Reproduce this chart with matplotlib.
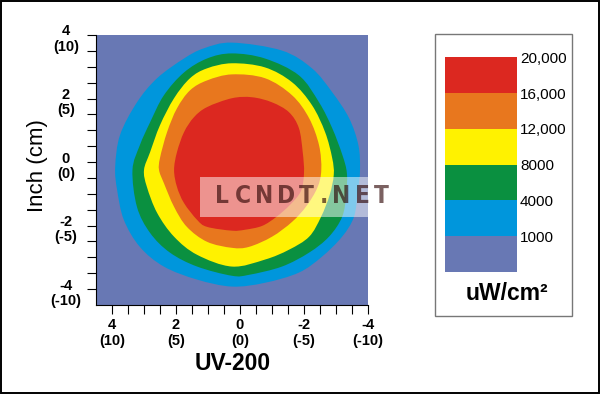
import numpy as np
import matplotlib
matplotlib.use("Agg")
import matplotlib.pyplot as plt
from matplotlib.path import Path
from matplotlib.patches import PathPatch, Rectangle
from matplotlib.transforms import ScaledTranslation, blended_transform_factory

plt.rcParams['font.family'] = ['Liberation Sans', 'DejaVu Sans']

# ---------------- data ----------------
level_labels = ['1000', '4000', '8000', '12,000', '16,000', '20,000']
band_colors = ['#6878b4', '#0096dc', '#0a9040', '#fff200', '#e8771e', '#dc2820']

x_ticks = [4, 2, 0, -2, -4]
x_tick_labels = ['4\n(10)', '2\n(5)', '0\n(0)', '-2\n(-5)', '-4\n(-10)']
y_ticks = [4, 2, 0, -2, -4]
y_tick_labels = ['4\n(10)', '2\n(5)', '0\n(0)', '-2\n(-5)', '-4\n(-10)']

# contour outlines (inch)
c1000_x = [0.25, -1.31, -2.25, -2.88, -3.41, -3.70, -3.75, -3.68, -3.56, -3.19, -2.56, -1.84, -0.78,
           0.25, 1.34, 2.38, 3.13, 3.63, 3.84, 3.90, 3.75, 3.22, 2.59, 1.75, 1.13]
c1000_y = [3.76, 3.51, 2.95, 2.20, 1.38, 0.53, -0.25, -0.95, -1.73, -2.35, -2.98, -3.48, -3.80,
           -3.92, -3.70, -3.29, -2.67, -1.82, -0.88, -0.15, 0.85, 1.88, 2.64, 3.26, 3.58]

c4000_x = [0.25, -0.78, -1.84, -2.47, -2.88, -3.20, -3.34, -3.32, -3.19, -2.78, -2.16, -1.31, -0.28,
           0.25, 1.34, 2.19, 2.81, 3.22, 3.36, 3.13, 2.81, 2.38, 1.75, 1.03]
c4000_y = [3.42, 3.26, 2.73, 1.88, 1.07, 0.22, -0.35, -1.04, -1.73, -2.35, -2.85, -3.29, -3.55,
           -3.58, -3.29, -2.85, -2.23, -1.41, -0.25, 0.53, 1.25, 2.10, 2.82, 3.26]

c8000_x = [0.25, -0.78, -1.63, -2.25, -2.66, -2.88, -2.93, -2.80, -2.53, -2.16, -1.53, -0.78,
           0.25, 1.34, 2.06, 2.59, 2.91, 3.00, 2.81, 2.50, 2.06, 1.56, 1.03]
c8000_y = [3.11, 2.98, 2.51, 1.79, 0.94, 0.13, -0.40, -1.04, -1.73, -2.35, -2.76, -3.07,
           -3.29, -2.92, -2.35, -1.60, -0.78, -0.25, 0.31, 1.16, 2.01, 2.64, 2.95]

c12000_x = [0.25, -0.78, -1.63, -2.16, -2.47, -2.54, -2.42, -2.08, -1.63, -1.00, -0.28,
            0.25, 1.03, 1.66, 2.06, 2.38, 2.53, 2.50, 2.28, 1.97, 1.56, 1.03]
c12000_y = [2.76, 2.64, 2.10, 1.38, 0.53, -0.25, -0.80, -1.38, -1.88, -2.35, -2.67,
            -2.70, -2.51, -2.04, -1.41, -0.66, -0.25, 0.13, 0.94, 1.69, 2.26, 2.57]

c16000_x = [0.25, -0.38, -1.00, -1.53, -1.84, -1.96, -2.00, -1.90, -1.56, -1.13, -0.69, -0.16,
            0.25, 1.03, 1.34, 1.75, 1.97, 2.06, 1.97, 1.75, 1.44, 1.03]
c16000_y = [2.01, 2.04, 1.88, 1.57, 1.07, 0.31, -0.35, -0.92, -1.35, -1.73, -2.01, -2.13,
            -2.16, -2.04, -1.82, -1.29, -0.78, -0.25, 0.31, 0.94, 1.41, 1.73]

contours = [(c1000_x, c1000_y), (c4000_x, c4000_y), (c8000_x, c8000_y),
            (c12000_x, c12000_y), (c16000_x, c16000_y)]


def closed_smooth_path(xs, ys):
    P = np.column_stack([xs, ys]).astype(float)
    n = len(P)
    verts = [P[0]]
    codes = [Path.MOVETO]
    for i in range(n):
        p0, p1, p2, p3 = P[i - 1], P[i], P[(i + 1) % n], P[(i + 2) % n]
        verts += [p1 + (p2 - p0) / 6.0, p2 - (p3 - p1) / 6.0, p2]
        codes += [Path.CURVE4] * 3
    verts.append(P[0])
    codes.append(Path.CLOSEPOLY)
    return Path(verts, codes)


W, H = 600, 394
fig = plt.figure(figsize=(W / 100, H / 100), dpi=100)
fig.patch.set_facecolor('white')

def fx(px):
    return px / W

def fy(py):
    return 1 - py / H

tick_font = dict(fontsize=10.5, fontweight='bold', multialignment='center', linespacing=1.1)

# ---------------- main contour axes ----------------
ax = fig.add_axes([fx(96), fy(305), 272 / W, 270 / H])
ax.set_facecolor(band_colors[0])
for (cx, cy), col in zip(contours, band_colors[1:]):
    ax.add_patch(PathPatch(closed_smooth_path(cx, cy), facecolor=col, edgecolor='none'))
ax.set_xlim(4.5, -4)
ax.set_ylim(-4.5, 4)

ax.set_xticks(x_ticks)
ax.set_xticklabels(x_tick_labels, **tick_font)
ax.set_xticks(np.arange(-4, 4.01, 0.5), minor=True)
ax.set_yticks(y_ticks)
ax.set_yticklabels([])
ax.set_yticks(np.arange(-4, 4.01, 0.5), minor=True)
ax.tick_params(which='both', direction='out', length=6.2, width=0.8, color='black')
ax.tick_params(axis='x', which='major', pad=3.5)

# y tick labels drawn as centred text blocks just under each tick
ytr = blended_transform_factory(fig.transFigure, ax.transData) + \
    ScaledTranslation(0, -4 / 100, fig.dpi_scale_trans)
for v, lab in zip(y_ticks, y_tick_labels):
    ax.text(fx(66), v, lab, transform=ytr, ha='center', va='center', clip_on=False, **tick_font)

for s in ['top', 'right']:
    ax.spines[s].set_visible(False)
for s in ['left', 'bottom']:
    ax.spines[s].set_color('black')
    ax.spines[s].set_linewidth(0.8)

fig.text(fx(37), fy(166), 'Inch (cm)', rotation=90, ha='center', va='center', fontsize=16)
fig.text(fx(233), fy(364), 'UV-200', ha='center', va='center', fontsize=16.5, fontweight='bold')

# ---------------- watermark ----------------
fig.patches.append(Rectangle((fx(200), fy(217)), (368 - 200) / W, 40 / H,
                             transform=fig.transFigure, facecolor='white', alpha=0.5,
                             edgecolor='none', zorder=5))
wm_chars = ['L', 'C', 'N', 'D', 'T', '.', 'N', 'E', 'T']
wm_cx = [222, 242.5, 264, 286, 306, 323.5, 341, 362, 381.5]
for ch, cxp in zip(wm_chars, wm_cx):
    fig.text(fx(cxp), fy(196), ch, ha='center', va='center', fontsize=17.5, fontweight='bold',
             family='DejaVu Sans', fontstretch='condensed', color='#2a0000', alpha=0.62,
             zorder=6)

# ---------------- legend ----------------
fig.patches.append(Rectangle((fx(435), fy(316)), (572 - 435) / W, (316 - 34) / H,
                             transform=fig.transFigure, facecolor='white',
                             edgecolor='#777777', linewidth=1.0, zorder=-1))
lax = fig.add_axes([fx(445), fy(272), 72 / W, 215 / H])
n = len(band_colors)
lax.bar(np.zeros(n), np.ones(n), bottom=np.arange(n), width=1, color=band_colors, align='edge')
lax.set_xlim(0, 1)
lax.set_ylim(0, n)
lax.set_axis_off()
for i, lab in enumerate(level_labels):
    lax.text(1.04, i + 1 - 0.05, lab, transform=lax.transData, ha='left', va='center',
             fontsize=11, clip_on=False)
fig.text(fx(507), fy(294), 'uW/cm²', ha='center', va='center', fontsize=16.5, fontweight='bold')

# ---------------- outer frame ----------------
fig.patches.append(Rectangle((fx(1), fy(392.5)), 597.5 / W, 391.5 / H,
                             transform=fig.transFigure, fill=False, edgecolor='black',
                             linewidth=1.4, zorder=10))

fig.savefig('out.png', dpi=100)
